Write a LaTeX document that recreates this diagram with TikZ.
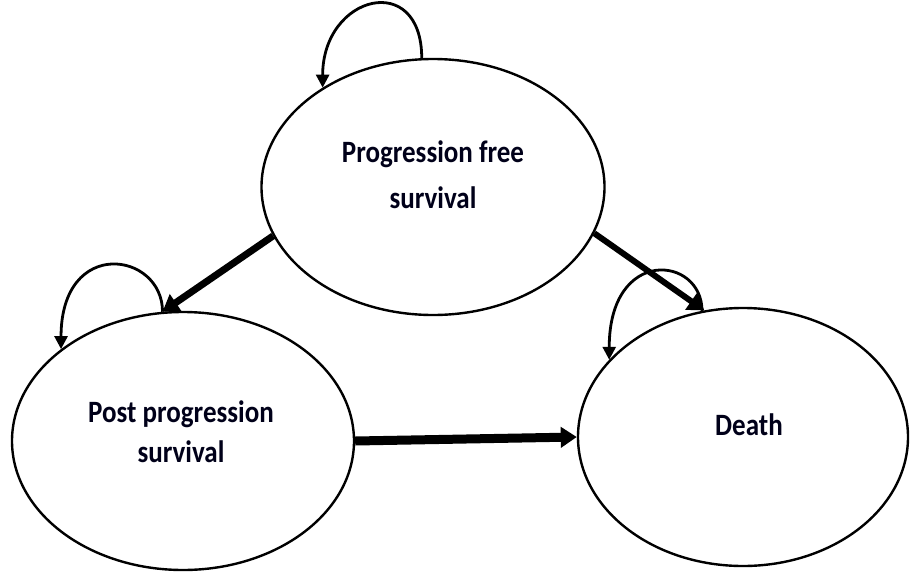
\documentclass[tikz,border=0pt]{standalone}
\usepackage{fontspec}
\setmainfont{Carlito}
\usetikzlibrary{shapes.geometric,arrows.meta}
\newcommand{\tallstr}[1]{\scalebox{1}[1.15]{#1}}
\begin{document}
\begin{tikzpicture}[x=1pt,y=-1pt,
  state/.style={ellipse,draw,line width=2.4pt,inner sep=0pt},
  txt/.style={anchor=base,inner sep=0pt,font=\bfseries\fontsize{27}{32}\selectfont,text=black!90!blue},
  loop/.style={line width=2.8pt,-{Triangle[length=13pt,width=13pt]}},
  thick/.style={line width=7pt,-{Triangle[length=16pt,width=20pt]}}]
\useasboundingbox (0,0) rectangle (911,574);
\fill[white] (0,0) rectangle (911,574);
\node[state,minimum width=343pt,minimum height=256pt] (pfs) at (433,187) {};
\node[state,minimum width=342pt,minimum height=258pt] (pps) at (183,441) {};
\node[state,minimum width=330pt,minimum height=258pt] (death) at (743,437) {};
% texts
\node[txt] (pfs1) at (433,162) {\tallstr{Progression free}};
\node[txt] (pfs2) at (433,208) {\tallstr{survival}};
\node[txt] (pps1) at (181,422) {\tallstr{Post progression}};
\node[txt] (pps2) at (181,462) {\tallstr{survival}};
\node[txt] (death1) at (749,435) {\tallstr{Death}};
% self loops
\draw[loop] (pfs.95) .. controls +(0,-88) and +(0,-93) .. (pfs.138);
\draw[loop] (pps.99) .. controls +(0,-60) and +(0,-113) .. (pps.143);
\draw[loop] (death.108) .. controls +(0,-55) and +(0,-114) .. (death.150);
% transitions
\draw[thick] (pfs.197) -- (pps.99);
\draw[thick,line width=6pt] (pfs.344) -- (death.107);
\draw[thick,line width=9pt] (pps.east) -- (death.west);
\end{tikzpicture}
\end{document}
